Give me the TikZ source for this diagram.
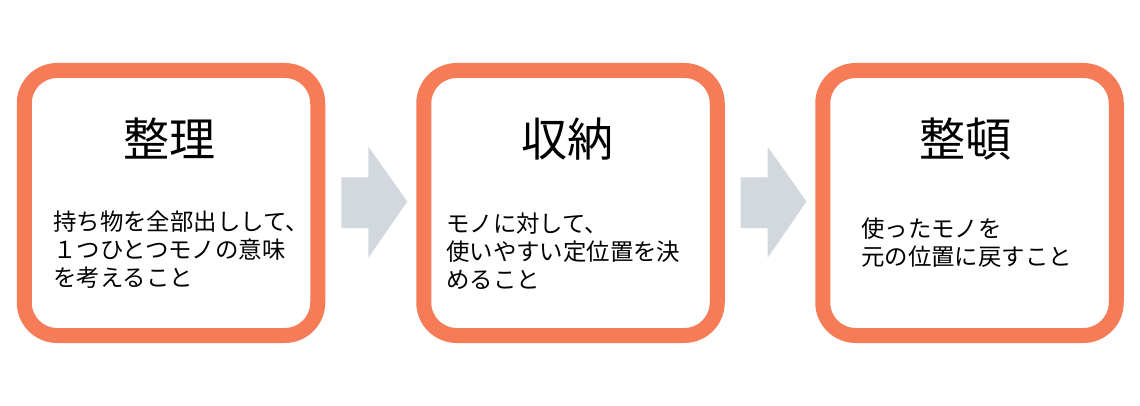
\documentclass[tikz,border=0pt]{standalone}
\usepackage{fontspec}
\setmainfont{Noto Sans CJK JP}
\usetikzlibrary{calc}
\definecolor{boxorange}{HTML}{F67B57}
\definecolor{arrowgray}{HTML}{D3D8DE}
\tikzset{
  stepbox/.style={draw=boxorange, line width=15pt, fill=white, rounded corners=33pt,
    minimum width=293.5pt, minimum height=265pt, inner sep=0pt},
  titletext/.style={font=\fontsize{46}{52}\selectfont, inner sep=0pt, text=black},
  bodytext/.style={font=\fontsize{23.4}{28}\selectfont, align=left, inner sep=0pt, anchor=west, text=black},
  blockarrow/.style={fill=arrowgray, draw=none}
}
\begin{document}
\begin{tikzpicture}[x=1pt,y=-1pt]
\useasboundingbox (0,0) rectangle (1140,406);
\node[stepbox] (b1) at (171,203) {};
\node[stepbox] (b2) at (570.5,203) {};
\node[stepbox] (b3) at (969.5,203) {};
\node[titletext] (t1) at (169.5,139) {整理};
\node[titletext] (t2) at (567.5,139) {収納};
\node[titletext] (t3) at (965,139) {整頓};
\node[bodytext] (d1) at (53,250) {持ち物を全部出しして、\\１つひとつモノの意味\\を考えること};
\node[bodytext] (d2) at (446,251) {モノに対して、\\使いやすい定位置を決\\めること};
\node[bodytext] (d3) at (861,243) {使ったモノを\\元の位置に戻すこと};
\coordinate (m1) at ($(b1.east)!0.5!(b2.west)$);
\coordinate (m2) at ($(b2.east)!0.5!(b3.west)$);
\foreach \m in {m1,m2}{
  \fill[blockarrow] ($(\m)+(-29.5,-25.5)$) -- ($(\m)+(-2.5,-25.5)$) -- ($(\m)+(-2.5,-56.5)$)
    -- ($(\m)+(36.5,-1.5)$) -- ($(\m)+(-2.5,55)$) -- ($(\m)+(-2.5,25)$) -- ($(\m)+(-29.5,25)$) -- cycle;
}
\end{tikzpicture}
\end{document}
